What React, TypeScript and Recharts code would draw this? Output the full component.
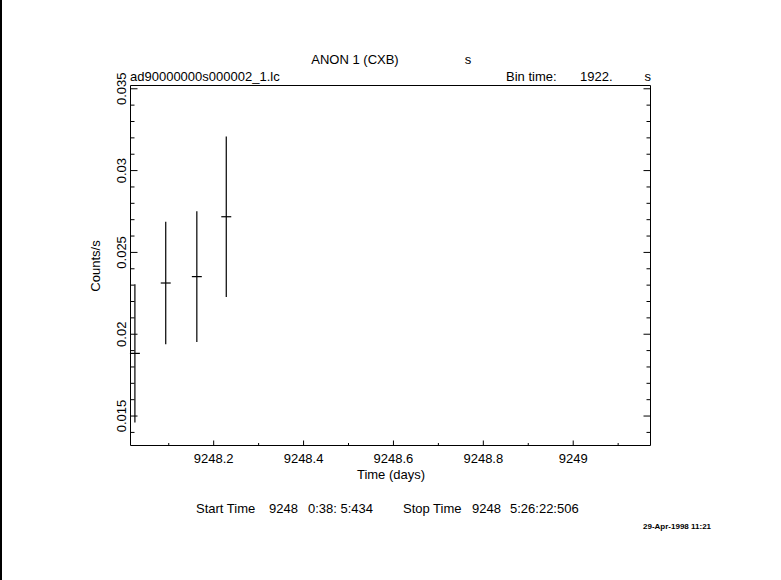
import { ScatterChart, Scatter, XAxis, YAxis, ErrorBar } from 'recharts';

const times = [9248.0247, 9248.0933, 9248.1625, 9248.228];
const halfBins = [0.0111, 0.0111, 0.0111, 0.0111];
const rates = [0.01883, 0.02313, 0.02352, 0.02718];
const rateErrors = [0.00422, 0.00374, 0.00399, 0.0049];

const xMajorTicks = [9248.2, 9248.4, 9248.6, 9248.8, 9249];
const xMinorTicks = [9248.1, 9248.3, 9248.5, 9248.7, 9248.9, 9249.1];
const yMajorTicks = [0.015, 0.02, 0.025, 0.03, 0.035];
const yMinorTicks = [
  0.014, 0.016, 0.017, 0.018, 0.019, 0.021, 0.022, 0.023, 0.024,
  0.026, 0.027, 0.028, 0.029, 0.031, 0.032, 0.033, 0.034,
];

const X_DOMAIN = [9248.0149, 9249.172];
const Y_DOMAIN = [0.0132, 0.0352];

const FONT = '"Liberation Sans", Arial, sans-serif';

const xTicks = [...xMajorTicks, ...xMinorTicks].sort((a, b) => a - b);
const yTicks = [...yMajorTicks, ...yMinorTicks].sort((a, b) => a - b);

const data = times.map((t, i) => ({
  time: t,
  rate: rates[i],
  timeErr: halfBins[i],
  rateErr: rateErrors[i],
}));

// draws an inward tick mark, plus the label on the labelled sides
function Tick(props: any) {
  const { x, y, payload, side } = props;
  const v = payload.value;
  const vertical = side === 'left' || side === 'right';
  const major = vertical ? yMajorTicks.includes(v) : xMajorTicks.includes(v);
  const len = vertical ? (major ? 7 : 4) : (major ? 5 : 2.5);
  let line;
  if (side === 'bottom') line = <line x1={x} x2={x} y1={y} y2={y - len} stroke="#000" />;
  else if (side === 'top') line = <line x1={x} x2={x} y1={y} y2={y + len} stroke="#000" />;
  else if (side === 'left') line = <line x1={x} x2={x + len} y1={y} y2={y} stroke="#000" />;
  else line = <line x1={x} x2={x - len} y1={y} y2={y} stroke="#000" />;
  let label = null;
  if (major && side === 'bottom') {
    label = (
      <text x={x} y={y + 13} textAnchor="middle" dominantBaseline="central" fontFamily={FONT} fontSize={13} fill="#000">
        {String(v)}
      </text>
    );
  } else if (major && side === 'left') {
    const lx = x - 9;
    label = (
      <text x={lx} y={y} transform={`rotate(-90 ${lx} ${y})`} textAnchor="middle" dominantBaseline="central" fontFamily={FONT} fontSize={13} fill="#000">
        {String(v)}
      </text>
    );
  }
  return (
    <g>
      {line}
      {label}
    </g>
  );
}

const axisLine = { stroke: '#000', strokeWidth: 1 };

export default function App() {
  return (
    <div style={{ position: 'absolute', left: 0, top: 0, width: 781, height: 580, background: '#fff' }}>
      <div style={{ position: 'absolute', left: 0, top: 0, width: 2, height: 580, background: '#000' }} />
      <ScatterChart width={781} height={580} margin={{ top: 84.5, right: 129.5, bottom: 133.5, left: 129.5 }}>
        <XAxis
          xAxisId="bottom"
          type="number"
          dataKey="time"
          domain={X_DOMAIN}
          allowDataOverflow
          ticks={xTicks}
          interval={0}
          height={1}
          tickSize={0}
          tickMargin={0}
          tickLine={false}
          tick={<Tick side="bottom" />}
          axisLine={axisLine}
        />
        <XAxis
          xAxisId="top"
          orientation="top"
          type="number"
          domain={X_DOMAIN}
          allowDataOverflow
          ticks={xTicks}
          interval={0}
          height={1}
          tickSize={0}
          tickMargin={0}
          tickLine={false}
          tick={<Tick side="top" />}
          axisLine={axisLine}
        />
        <YAxis
          yAxisId="left"
          type="number"
          dataKey="rate"
          domain={Y_DOMAIN}
          allowDataOverflow
          ticks={yTicks}
          interval={0}
          width={1}
          tickSize={0}
          tickMargin={0}
          tickLine={false}
          tick={<Tick side="left" />}
          axisLine={axisLine}
        />
        <YAxis
          yAxisId="right"
          orientation="right"
          type="number"
          domain={Y_DOMAIN}
          allowDataOverflow
          ticks={yTicks}
          interval={0}
          width={1}
          tickSize={0}
          tickMargin={0}
          tickLine={false}
          tick={<Tick side="right" />}
          axisLine={axisLine}
        />
        <Scatter
          data={data}
          xAxisId="bottom"
          yAxisId="left"
          dataKey="rate"
          isAnimationActive={false}
          shape={() => <g />}
        >
          <ErrorBar dataKey="rateErr" direction="y" width={0} stroke="#000" strokeWidth={1.2} isAnimationActive={false} />
          <ErrorBar dataKey="timeErr" direction="x" width={0} stroke="#000" strokeWidth={1.2} isAnimationActive={false} />
        </Scatter>
      </ScatterChart>
      <svg
        width={781}
        height={580}
        style={{ position: 'absolute', left: 0, top: 0, pointerEvents: 'none' }}
        fontFamily={FONT}
        fontSize={13}
        fill="#000"
      >
        <text x={355} y={59} textAnchor="middle" dominantBaseline="central">ANON 1 (CXB)</text>
        <text x={468} y={59} textAnchor="middle" dominantBaseline="central">s</text>
        <text x={130} y={76} dominantBaseline="central">ad90000000s000002_1.lc</text>
        <text x={506} y={76} dominantBaseline="central">Bin time:</text>
        <text x={580} y={76} dominantBaseline="central">1922.</text>
        <text x={651} y={76} textAnchor="end" dominantBaseline="central">s</text>
        <text x={95} y={266} transform="rotate(-90 95 266)" textAnchor="middle" dominantBaseline="central">Counts/s</text>
        <text x={391} y={474} textAnchor="middle" dominantBaseline="central">Time (days)</text>
        <text x={196} y={508} dominantBaseline="central">Start Time</text>
        <text x={269} y={508} dominantBaseline="central">9248</text>
        <text x={308} y={508} dominantBaseline="central" style={{ whiteSpace: 'pre' }}>0:38: 5:434</text>
        <text x={403} y={508} dominantBaseline="central">Stop Time</text>
        <text x={472} y={508} dominantBaseline="central">9248</text>
        <text x={510} y={508} dominantBaseline="central">5:26:22:506</text>
        <text x={643} y={526} dominantBaseline="central" fontSize={8} fontWeight="bold">29-Apr-1998 11:21</text>
      </svg>
    </div>
  );
}
